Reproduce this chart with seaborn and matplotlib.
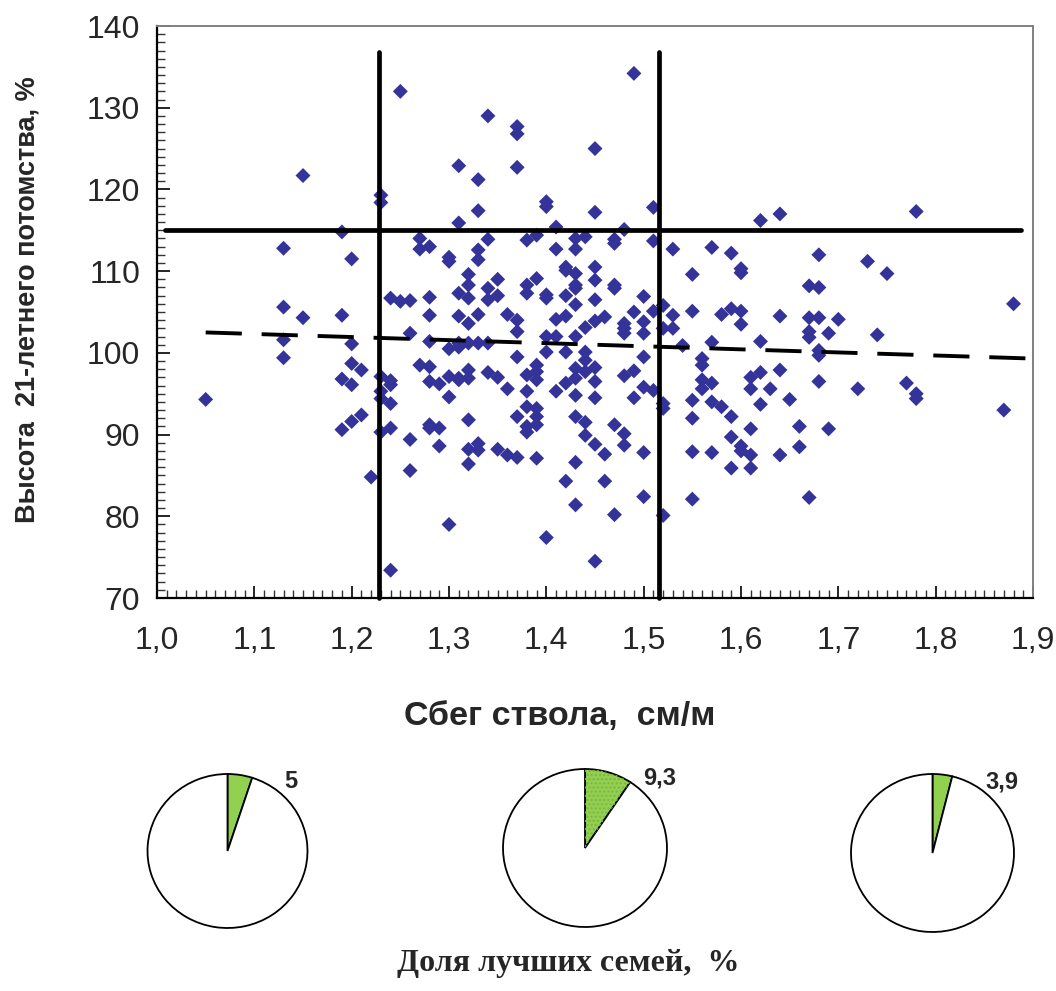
import numpy as np
import pandas as pd
import matplotlib
matplotlib.use("Agg")
import matplotlib.pyplot as plt
from matplotlib.ticker import MultipleLocator, FuncFormatter
from matplotlib.patches import Wedge
import seaborn as sns

# Stem taper (cm/m) -> list of relative heights (%) of 21-year-old progeny
taper_groups = {
    1.05: [94.3],
    1.13: [112.8, 105.6, 101.6, 99.4],
    1.15: [121.7, 104.3],
    1.19: [114.8, 104.6, 96.8, 90.6],
    1.20: [111.5, 101.1, 98.7, 96.1, 91.6],
    1.21: [97.9, 92.4],
    1.22: [84.8],
    1.23: [119.3, 118.4, 97.1, 95.3, 94.4, 90.3],
    1.24: [106.7, 96.6, 96.1, 93.8, 90.8, 73.4],
    1.25: [132.0, 106.3],
    1.26: [106.4, 102.4, 89.4, 85.6],
    1.27: [114.0, 112.7, 98.5],
    1.28: [113.0, 106.8, 104.6, 101.4, 98.3, 96.5, 91.2, 90.8],
    1.29: [96.2, 90.8, 88.6],
    1.30: [111.7, 111.2, 100.5, 97.1, 94.6, 79.0],
    1.31: [122.9, 115.9, 107.3, 104.5, 101.2, 100.7, 96.7, 96.9],
    1.32: [109.6, 108.3, 106.7, 103.6, 101.2, 97.9, 96.9, 91.8, 88.2, 86.4],
    1.33: [121.2, 117.4, 112.6, 111.4, 104.7, 101.2, 88.9, 88.1],
    1.34: [129.0, 113.9, 107.9, 106.5, 101.2, 97.6],
    1.35: [109.0, 107.0, 97.0, 88.2],
    1.36: [104.7, 95.6, 87.5],
    1.37: [127.7, 126.8, 122.7, 104.0, 102.6, 99.5, 92.2, 87.2],
    1.38: [113.8, 108.3, 107.3, 97.3, 95.3, 93.4, 91.0, 90.3],
    1.39: [114.4, 109.1, 98.5, 97.7, 96.7, 93.2, 92.2, 91.2, 87.1],
    1.40: [118.5, 117.9, 107.1, 106.7, 102.0, 100.1, 77.4],
    1.41: [115.4, 112.7, 104.1, 102.0, 95.3],
    1.42: [110.5, 110.1, 107.0, 104.5, 100.1, 96.3, 84.3],
    1.43: [114.0, 112.7, 109.7, 108.3, 107.9, 105.9, 102.0, 98.1, 96.9, 94.8, 92.2, 86.6, 81.4],
    1.44: [114.2, 103.1, 100.1, 99.1, 97.7, 91.5, 89.9],
    1.45: [125.0, 117.2, 110.5, 108.9, 106.5, 103.9, 98.2, 96.5, 94.5, 88.8, 74.5],
    1.46: [104.4, 87.6, 84.3],
    1.47: [113.9, 113.4, 108.3, 107.9, 91.2, 80.2],
    1.48: [115.1, 103.6, 103.0, 102.4, 97.2, 90.1, 88.7],
    1.49: [134.2, 105.0, 97.8, 94.5],
    1.50: [106.9, 103.8, 102.4, 99.5, 95.8, 87.8, 82.4],
    1.51: [117.8, 113.7, 105.1, 95.4],
    1.52: [105.8, 103.0, 93.8, 93.2, 80.1],
    1.53: [112.7, 104.6, 103.0],
    1.54: [100.9],
    1.55: [109.6, 105.1, 94.2, 92.0, 87.9, 82.1],
    1.56: [99.3, 98.5, 96.7, 95.6],
    1.57: [112.9, 101.3, 96.3, 94.0, 87.8],
    1.58: [104.7, 93.4],
    1.59: [112.2, 105.4, 92.2, 89.7, 85.9],
    1.60: [110.3, 109.8, 105.1, 103.5, 88.6, 88.0],
    1.61: [97.0, 95.6, 90.7, 87.5, 85.9],
    1.62: [116.2, 101.4, 97.6, 93.7],
    1.63: [95.6],
    1.64: [117.0, 104.5, 97.9, 87.5],
    1.65: [94.3],
    1.66: [91.0, 88.5],
    1.67: [108.2, 104.3, 102.6, 101.9, 82.3],
    1.68: [112.0, 108.0, 104.3, 100.3, 99.7, 96.5],
    1.69: [102.4, 90.7],
    1.70: [104.1],
    1.72: [95.6],
    1.73: [111.2],
    1.74: [102.2],
    1.75: [109.7],
    1.77: [96.3],
    1.78: [117.3, 95.0, 94.4],
    1.87: [93.0],
    1.88: [106.0],
}

taper = [x for x, ys in taper_groups.items() for _ in ys]
height = [y for ys in taper_groups.values() for y in ys]

# Linear trend of height on taper
trend_x = [1.05, 1.90]
trend_y = [102.5, 99.3]

# Selection thresholds
taper_cuts = [1.228, 1.516]
cut_top = 136.8
height_cut = 115.0
height_cut_span = [1.008, 1.888]

# Share of best families in each taper class, %
best_share = [5.0, 9.3, 3.9]
best_share_labels = ["5", "9,3", "3,9"]

x_ticks = [1.0, 1.1, 1.2, 1.3, 1.4, 1.5, 1.6, 1.7, 1.8, 1.9]
y_ticks = [70, 80, 90, 100, 110, 120, 130, 140]

sns.set_style("ticks")
plt.rcParams["font.family"] = ["Liberation Sans", "DejaVu Sans"]

W, H = 1056, 991
fig = plt.figure(figsize=(W / 100, H / 100), dpi=100)


def px_axes(left, top, right, bottom):
    return fig.add_axes([left / W, 1 - bottom / H, (right - left) / W, (bottom - top) / H])


ax = px_axes(157, 26, 1033, 598)
df = pd.DataFrame({"taper": taper, "height": height})
sns.scatterplot(data=df, x="taper", y="height", ax=ax, marker="D", s=58,
                color="#333399", edgecolor="none", linewidth=0, zorder=3)

ax.plot(trend_x, trend_y, color="black", lw=2.8, linestyle=(0, (9.3, 5.1)), zorder=4)
for xc in taper_cuts:
    ax.plot([xc, xc], [70, cut_top], color="black", lw=3.4,
            solid_capstyle="round", zorder=5, clip_on=False)
ax.plot(height_cut_span, [height_cut, height_cut], color="black", lw=3.4,
        solid_capstyle="round", zorder=5)

ax.set_xlim(1.0, 1.9)
ax.set_ylim(70, 140)
ax.set_xticks(x_ticks)
ax.set_yticks(y_ticks)
ax.xaxis.set_minor_locator(MultipleLocator(0.01))
ax.yaxis.set_minor_locator(MultipleLocator(1))
ax.xaxis.set_major_formatter(FuncFormatter(lambda v, p: f"{v:.1f}".replace(".", ",")))
ax.yaxis.set_major_formatter(FuncFormatter(lambda v, p: f"{v:.0f}"))
ax.tick_params(axis="both", which="major", direction="in", length=9, width=1.2,
               labelsize=23, color="black")
ax.tick_params(axis="both", which="minor", direction="in", length=6, width=1.0,
               color="#333333")
ax.tick_params(axis="x", which="major", pad=20)
ax.tick_params(axis="y", which="major", pad=12)

for side in ["left", "bottom"]:
    ax.spines[side].set_color("black")
    ax.spines[side].set_linewidth(1.6)
for side in ["top", "right"]:
    ax.spines[side].set_visible(True)
    ax.spines[side].set_color("#808080")
    ax.spines[side].set_linewidth(1.4)

ax.set_xlabel("Сбег ствола,  см/м", fontsize=24.5, fontweight="bold")
ax.set_ylabel("Высота  21-летнего потомства, %", fontsize=19.5, fontweight="bold")
ax.xaxis.set_label_coords((560 - 157) / 876, (598 - 701) / 572)
ax.yaxis.set_label_coords((41 - 157) / 876, (598 - 300) / 572)

# Pie charts: share of best families per taper class
pie_geom = [(227.5, 851, 80, 77), (585, 848, 82, 79), (932.5, 853, 81.5, 79)]
label_pos = [(291, 782), (660, 778), (1002, 782)]
green = "#92D050"
for i, ((cx, cy, rx, ry), share, lab, (lx, ly)) in enumerate(
        zip(pie_geom, best_share, best_share_labels, label_pos)):
    pax = px_axes(cx - rx, cy - ry, cx + rx, cy + ry)
    wedges, _ = pax.pie([share, 100 - share], colors=[green, "white"], startangle=90,
                        counterclock=False,
                        wedgeprops=dict(edgecolor="black", linewidth=1.3))
    for w in wedges:
        w.set_clip_on(False)
    if i == 1:
        w0 = wedges[0]
        dots = Wedge(w0.center, w0.r, w0.theta1, w0.theta2, facecolor="none",
                     edgecolor="#7cb443", linewidth=0, hatch="....", zorder=w0.zorder + 0.1)
        dots.set_clip_on(False)
        pax.add_patch(dots)
    pax.set_aspect("auto")
    pax.set_xlim(-1, 1)
    pax.set_ylim(-1, 1)
    pax.axis("off")
    fig.text(lx / W, 1 - ly / H, lab, fontsize=17, fontweight="bold",
             ha="center", va="center")

fig.text(568 / W, 1 - 964 / H, "Доля лучших семей,  %", fontsize=23, fontweight="bold",
         family=["Liberation Serif", "DejaVu Serif"], ha="center", va="center")

fig.savefig("out.png", dpi=100)
